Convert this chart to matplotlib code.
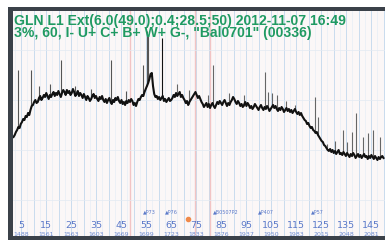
import numpy as np
import matplotlib
matplotlib.use("Agg")
import matplotlib.pyplot as plt
from matplotlib.patches import Rectangle

# trace, read at roughly two samples per unit of the x axis (from 2 to 150)
trace_y = [99, 101, 104, 106, 109, 108, 112, 114, 117, 116, 120, 119, 123, 121, 126, 130,
           131, 134, 136, 133, 134, 138, 140, 136, 138, 141, 139, 143, 140, 137, 141, 139,
           142, 144, 140, 143, 141, 145, 142, 139, 143, 146, 144, 141, 146, 143, 145, 141,
           143, 147, 144, 140, 142, 145, 140, 143, 141, 138, 142, 139, 136, 140, 138, 135,
           137, 140, 142, 138, 140, 137, 135, 139, 137, 140, 136, 134, 137, 133, 136, 138,
           134, 132, 136, 134, 138, 136, 139, 135, 133, 136, 132, 134, 131, 135, 133, 136,
           134, 137, 135, 131, 133, 130, 134, 137, 136, 139, 141, 140, 144, 147, 150, 153,
           157, 162, 163, 150, 142, 139, 140, 137, 139, 136, 138, 140, 135, 137, 134, 136,
           138, 135, 136, 138, 141, 139, 143, 140, 142, 144, 139, 141, 138, 136, 133, 135,
           131, 134, 136, 138, 140, 142, 144, 141, 138, 140, 137, 134, 132, 129, 131, 133,
           129, 132, 128, 131, 133, 130, 128, 131, 134, 132, 135, 133, 131, 134, 136, 133,
           130, 133, 131, 134, 136, 139, 137, 134, 132, 135, 133, 130, 132, 129, 131, 134,
           130, 133, 131, 128, 130, 127, 129, 132, 130, 128, 126, 129, 131, 128, 126, 129,
           127, 130, 128, 125, 127, 129, 131, 128, 130, 127, 125, 128, 126, 129, 127, 124,
           126, 128, 125, 127, 124, 126, 123, 125, 127, 124, 122, 124, 121, 123, 120, 118,
           116, 115, 112, 113, 110, 108, 109, 106, 105, 103, 104, 101, 99, 97, 95,
           94, 91, 90, 88, 86, 85, 87, 84, 86, 83, 85, 82, 84, 86, 82, 83, 81, 84,
           82, 80, 83, 81, 79, 82, 80, 83, 81, 78, 80, 82, 79, 81, 78, 80, 82, 79,
           80, 77, 80, 78, 81, 79, 77, 80, 78, 76, 79, 77, 79, 80, 78]
trace_x = np.linspace(2, 150, len(trace_y))

# spikes: position and top value
spike_x = [3.8, 9.0, 12.0, 16.5, 21.0, 26.5, 33.0, 41.0, 47.0, 53.8, 55.4, 55.9,
           61.4, 67.5, 72.0, 79.8, 81.8, 88.0, 94.0, 102.6, 103.8, 105.4, 107.4,
           111.0, 114.5, 122.6, 123.8, 127.5, 130.5, 133.8, 135.5, 137.4,
           139.0, 141.8, 143.8, 145.8, 148.6]
spike_top = [166, 166, 150, 152, 176, 150, 147, 176, 145, 171, 205, 200,
             198, 152, 146, 141, 171, 143, 141, 164, 144, 143, 141,
             135, 131, 139, 119, 92, 95, 106, 94, 104,
             123, 99, 103, 106, 99]
spike_col = ["#555555"] * 12 + ["#111111"] + ["#666666"] * 24

tick_vals = list(range(5, 150, 10))
depth_labels = ["1488", "1561", "1563", "1603", "1669", "1699", "1723", "1833",
                "1876", "1937", "1950", "1983", "2015", "2048", "2081"]

marker_x = [56.5, 65.0, 87.0, 103.0, 123.5]
marker_text = ["\u25b2P73", "\u25b2P76", "\u25b2B0507P2", "\u25b2P407", "\u25b2P57"]

title1 = "GLN L1 Ext(6.0(49.0);0.4;28.5;50) 2012-11-07 16:49"
title2 = "3%, 60, I- U+ C+ B+ W+ G-, \"Bal0701\" (00336)"

fig = plt.figure(figsize=(3.85, 2.4), dpi=100)
fig.patch.set_facecolor("white")
W, H = 385, 240
# dark frame: left, top and bottom bands
for (x0, y0, w, h) in [(8, 0, 5, 233), (8, 229, 377, 4), (8, 0, 377, 4)]:
    fig.patches.append(Rectangle((x0 / W, y0 / H), w / W, h / H, transform=fig.transFigure,
                                 facecolor="#3b4149", edgecolor="none"))

ax = fig.add_axes([13 / W, 4 / H, 372 / W, 225 / H])
ax.set_zorder(5)
ax.set_facecolor("#fbf7f7")
ax.set_xlim(1.8, 150.6)
ax.set_ylim(0, 225)

# grid
for gx in np.arange(0, 151, 5):
    ax.axvline(gx, color="#c9dcee", lw=0.7, zorder=1)
for gx in np.arange(2.5, 151, 5):
    ax.axvline(gx, color="#e6eef6", lw=0.5, zorder=1)
for gx in [48.6, 74.6, 80.6]:
    ax.axvline(gx, color="#f2c4c4", lw=1.0, zorder=1)
for gy in [36, 86, 136, 186]:
    ax.axhline(gy, color="#e2eaf2", lw=0.5, zorder=1)

base = np.interp(spike_x, trace_x, trace_y)
ax.vlines(spike_x, base, spike_top, colors=spike_col, lw=0.8, zorder=3)
ax.plot(trace_x, trace_y, color="#111111", lw=1.5, zorder=4)

for t in tick_vals:
    ax.text(t, 11, str(t), ha="center", va="center", fontsize=6.8,
            color="#5b79c9", zorder=5)
for t, s in zip(tick_vals, depth_labels):
    ax.text(t, 1.5, s, ha="center", va="center", fontsize=4.5,
            color="#6f8bd0", zorder=5)
for mx, s in zip(marker_x, marker_text):
    ax.text(mx, 24, s, ha="center", va="center", fontsize=3.5,
            color="#5b79c9", zorder=5)
ax.plot([71.8], [17], "o", color="#f08a4b", ms=3, zorder=5)

ax.text(1.5 / 372, 1 - 2.5 / 225, title1, transform=ax.transAxes, ha="left", va="top",
        fontsize=10.1, fontweight="bold", family="Liberation Sans",
        color="#1f9a62", zorder=6)
ax.text(1.5 / 372, 1 - 15.5 / 225, title2, transform=ax.transAxes, ha="left", va="top",
        fontsize=10.1, fontweight="bold", family="Liberation Sans",
        color="#1f9a62", zorder=6)

ax.set_xticks([])
ax.set_yticks([])
for s in ax.spines.values():
    s.set_visible(False)

fig.savefig("out.png", dpi=100)
